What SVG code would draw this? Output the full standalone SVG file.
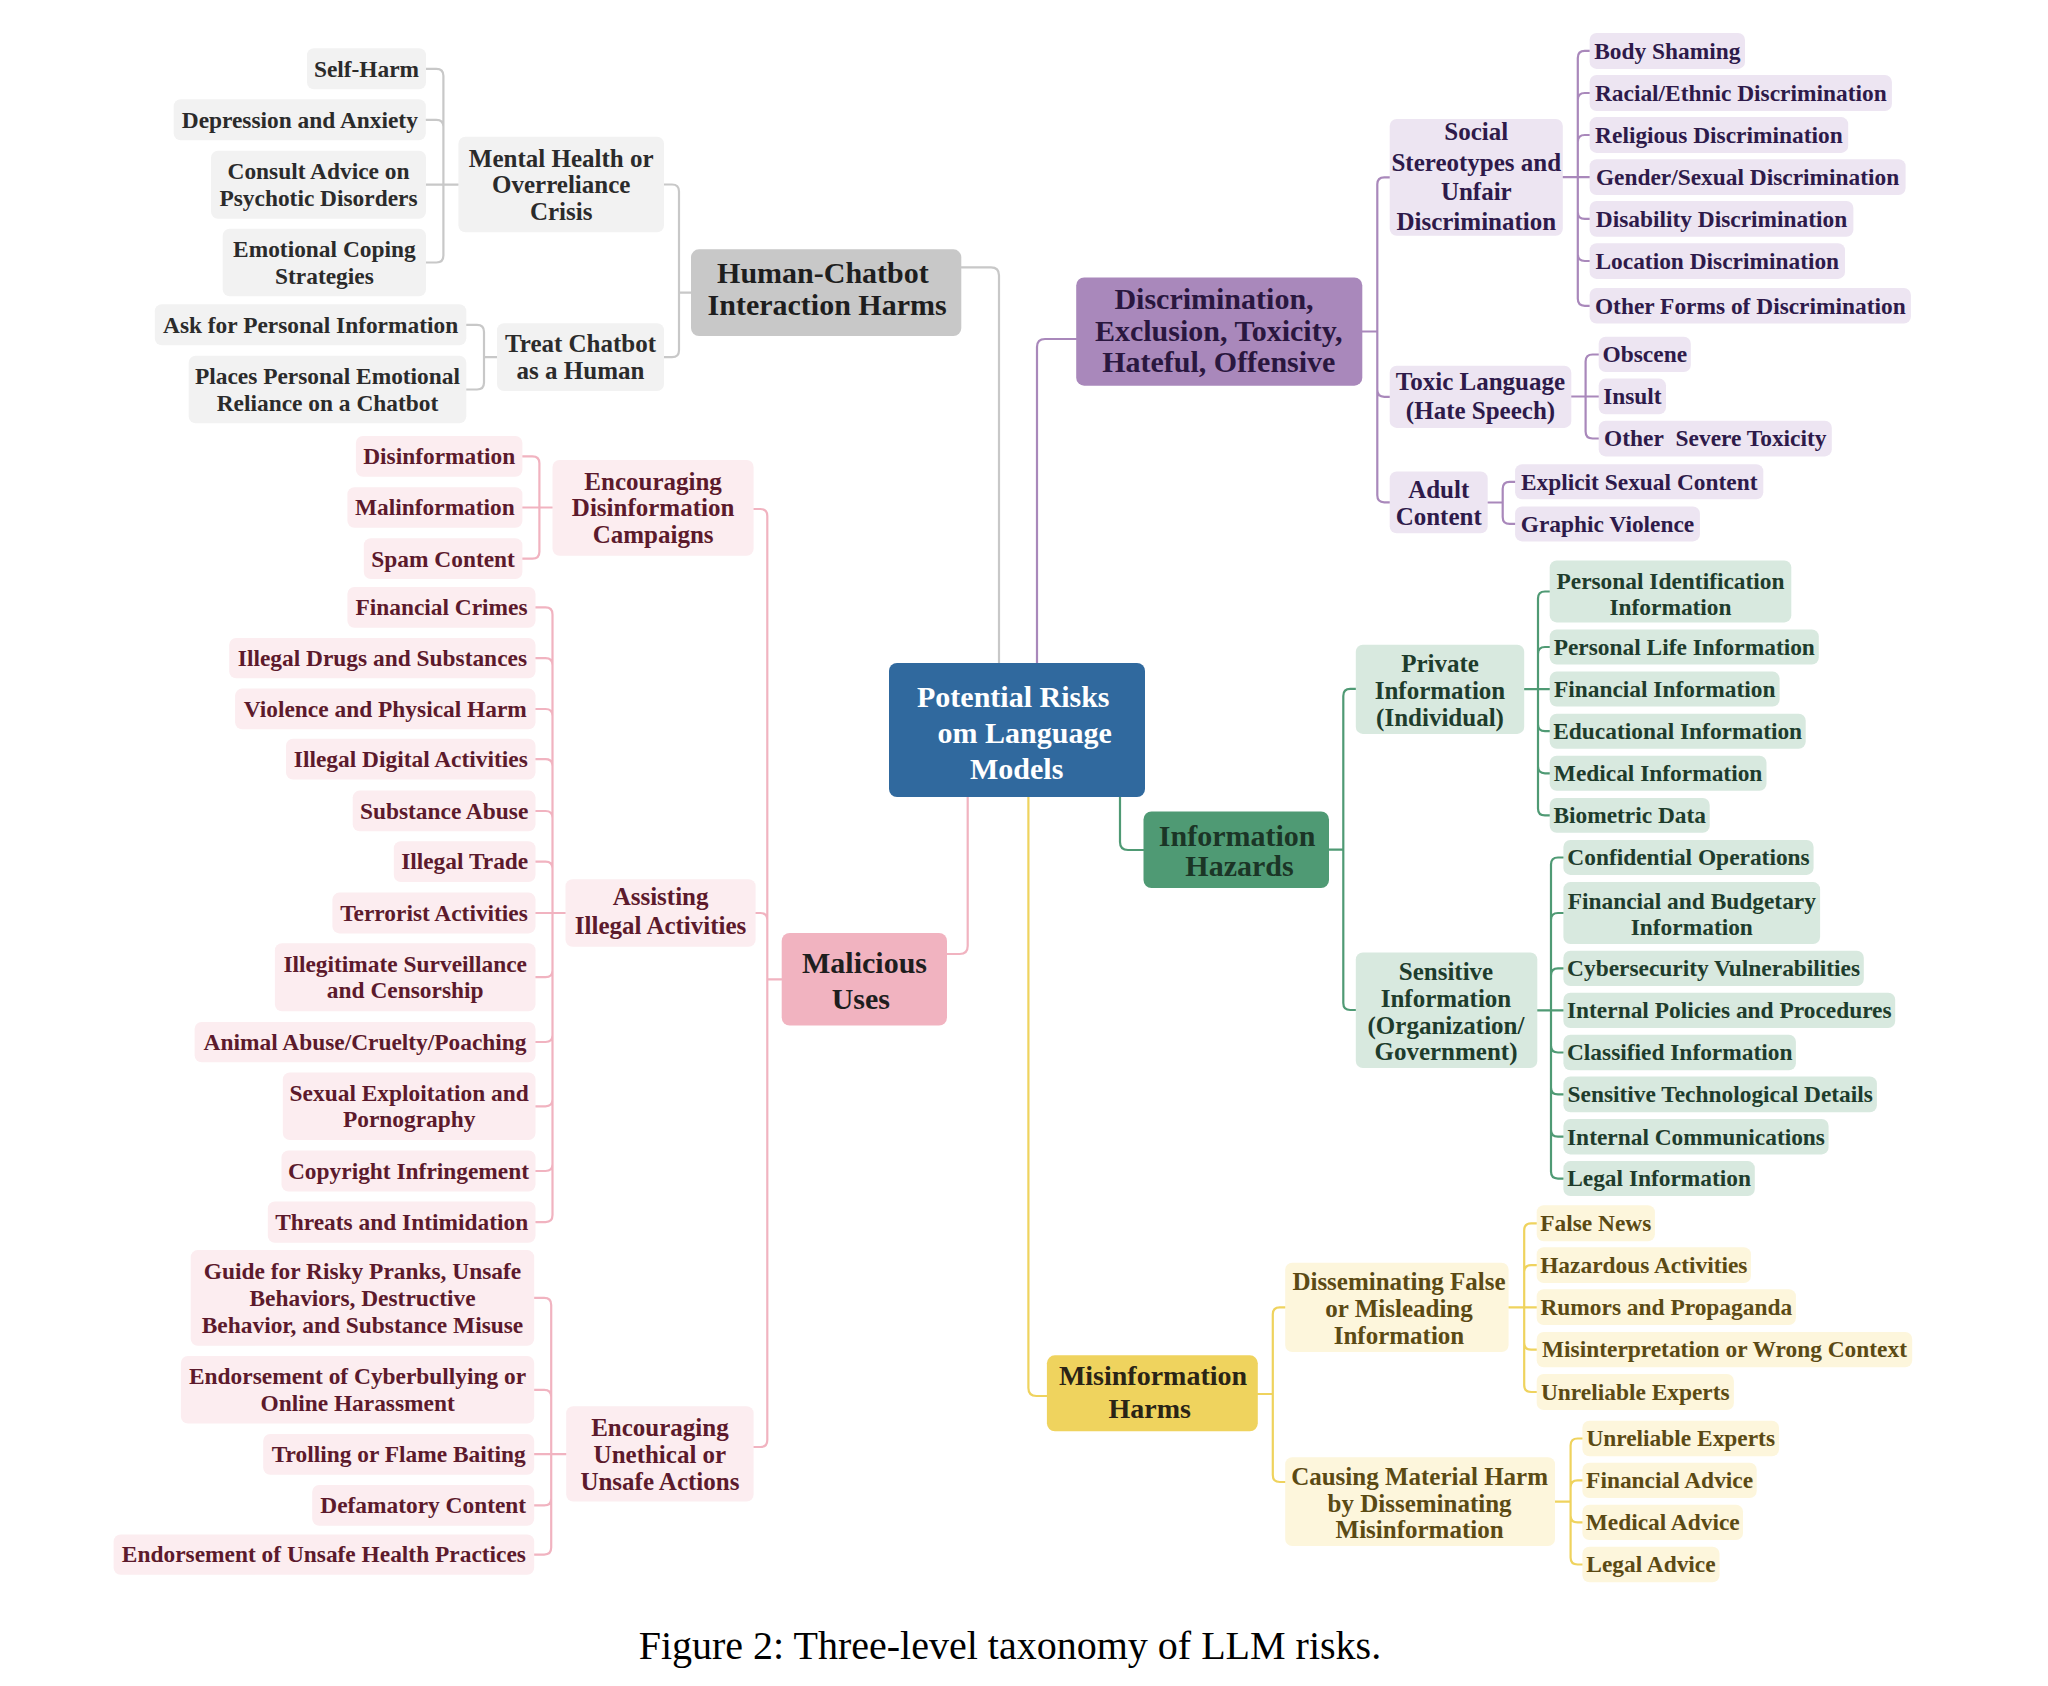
<svg xmlns="http://www.w3.org/2000/svg" width="2048" height="1686" viewBox="0 0 2048 1686">
<style>
text{font-family:"Liberation Serif","Times New Roman",serif;font-weight:bold;text-anchor:middle}
.t1{font-size:30px}.t2{font-size:25px}.t3{font-size:23.4px}
.cap{font-weight:normal;font-size:40px;text-anchor:start;fill:#000}
.c{fill:none;stroke-width:2.2;stroke-linecap:round;stroke-linejoin:round}
.cg{stroke:#c8c8c8}.cp{stroke:#a988bb}.ck{stroke:#f1b3c0}.cn{stroke:#4f9a74}.cy{stroke:#efd35e}
.bg rect{fill:#f2f2f2}.bg text{fill:#2b2b2b}
.bp rect{fill:#ede5f2}.bp text{fill:#2e1a4a}
.bk rect{fill:#fcedf0}.bk text{fill:#5c1a2c}
.bn rect{fill:#d8e9df}.bn text{fill:#1e3c2c}
.by rect{fill:#fdf6dc}.by text{fill:#5b4a14}
</style>
<rect width="2048" height="1686" fill="#fff"/>
<g id="connectors">
<path class="c cg" d="M961.3,267.3 H991 Q999,267.3 999,275.3 V663"/>
<path class="c cg" d="M664,184.5 H672 Q679,184.5 679,191.5 V350.2 Q679,357.2 672,357.2 H664 M691,292.7 H679"/>
<path class="c cg" d="M426,68.8 H436.4 Q443.4,68.8 443.4,75.8 V255.5 Q443.4,262.5 436.4,262.5 H426 M426,119.8 H436.4 Q443.4,119.8 443.4,126.8 M426,184.6 H458.4"/>
<path class="c cg" d="M466.3,324.8 H477 Q484,324.8 484,331.8 V382.5 Q484,389.5 477,389.5 H466.3 M497,357.2 H484"/>
<path class="c cp" d="M1076.2,339 H1045 Q1037,339 1037,347 V663"/>
<path class="c cp" d="M1389.7,177.3 H1384.3 Q1377.3,177.3 1377.3,184.3 V495.3 Q1377.3,502.3 1384.3,502.3 H1389.7 M1389.7,396.8 H1384.3 Q1377.3,396.8 1377.3,389.8 M1362.3,331.5 H1377.3"/>
<path class="c cp" d="M1589.6,50.9 H1584.8 Q1577.8,50.9 1577.8,57.9 V298.8 Q1577.8,305.8 1584.8,305.8 H1589.6 M1589.6,93 H1584.8 Q1577.8,93 1577.8,100 M1589.6,135 H1584.8 Q1577.8,135 1577.8,142 M1562.8,177.2 H1589.6 M1589.6,218.9 H1584.8 Q1577.8,218.9 1577.8,211.9 M1589.6,261 H1584.8 Q1577.8,261 1577.8,254"/>
<path class="c cp" d="M1598.7,354.5 H1592.6 Q1585.6,354.5 1585.6,361.5 V431.5 Q1585.6,438.5 1592.6,438.5 H1598.7 M1571.3,396.5 H1598.7"/>
<path class="c cp" d="M1515.1,481.8 H1509.7 Q1502.7,481.8 1502.7,488.8 V516.9 Q1502.7,523.9 1509.7,523.9 H1515.1 M1487.7,502.5 H1502.7"/>
<path class="c ck" d="M967.7,797 V946 Q967.7,954 959.7,954 H947"/>
<path class="c ck" d="M753.6,509 H760.3 Q767.3,509 767.3,516 V1440 Q767.3,1447 760.3,1447 H753.6 M755.6,913 H760.3 Q767.3,913 767.3,920 M781.7,979.3 H767.3"/>
<path class="c ck" d="M522.4,456.3 H532.4 Q539.4,456.3 539.4,463.3 V551.7 Q539.4,558.7 532.4,558.7 H522.4 M522.4,507.5 H552.5"/>
<path class="c ck" d="M535.5,607.4 H545.5 Q552.5,607.4 552.5,614.4 V1215.1 Q552.5,1222.1 545.5,1222.1 H535.5 M535.5,658.2 H545.5 Q552.5,658.2 552.5,665.2 M535.5,709 H545.5 Q552.5,709 552.5,716 M535.5,759.2 H545.5 Q552.5,759.2 552.5,766.2 M535.5,811 H545.5 Q552.5,811 552.5,818 M535.5,861.6 H545.5 Q552.5,861.6 552.5,868.6 M535.5,913 H565.5 M535.5,977.2 H545.5 Q552.5,977.2 552.5,970.2 M535.5,1042 H545.5 Q552.5,1042 552.5,1035 M535.5,1106.3 H545.5 Q552.5,1106.3 552.5,1099.3 M535.5,1171 H545.5 Q552.5,1171 552.5,1164"/>
<path class="c ck" d="M534.2,1297.9 H544.2 Q551.2,1297.9 551.2,1304.9 V1547.6 Q551.2,1554.6 544.2,1554.6 H534.2 M534.2,1389.8 H544.2 Q551.2,1389.8 551.2,1396.8 M534.2,1454.1 H566.2 M534.2,1505.4 H544.2 Q551.2,1505.4 551.2,1498.4"/>
<path class="c cn" d="M1120,797 V842 Q1120,850 1128,850 H1143.5"/>
<path class="c cn" d="M1355.8,688.9 H1350.3 Q1343.3,688.9 1343.3,695.9 V1003 Q1343.3,1010 1350.3,1010 H1355.8 M1329,849.6 H1343.3"/>
<path class="c cn" d="M1549.7,591.5 H1545 Q1538,591.5 1538,598.5 V808.4 Q1538,815.4 1545,815.4 H1549.7 M1549.7,647 H1545 Q1538,647 1538,654 M1524.2,689.1 H1549.7 M1549.7,731.2 H1545 Q1538,731.2 1538,724.2 M1549.7,773.3 H1545 Q1538,773.3 1538,766.3"/>
<path class="c cn" d="M1563.4,857.5 H1558 Q1551,857.5 1551,864.5 V1171.6 Q1551,1178.6 1558,1178.6 H1563.4 M1563.4,913 H1558 Q1551,913 1551,920 M1563.4,968.4 H1558 Q1551,968.4 1551,975.4 M1537.3,1010.4 H1563.4 M1563.4,1052.5 H1558 Q1551,1052.5 1551,1045.5 M1563.4,1094.4 H1558 Q1551,1094.4 1551,1087.4 M1563.4,1136.7 H1558 Q1551,1136.7 1551,1129.7"/>
<path class="c cy" d="M1028.4,797 V1388 Q1028.4,1396 1036.4,1396 H1046.9"/>
<path class="c cy" d="M1285.2,1307.3 H1279.8 Q1272.8,1307.3 1272.8,1314.3 V1475 Q1272.8,1482 1279.8,1482 H1285.2 M1257.8,1394 H1272.8"/>
<path class="c cy" d="M1536.7,1223.3 H1531.2 Q1524.2,1223.3 1524.2,1230.3 V1385 Q1524.2,1392 1531.2,1392 H1536.7 M1536.7,1265.2 H1531.2 Q1524.2,1265.2 1524.2,1272.2 M1508.6,1307.3 H1536.7 M1536.7,1349.7 H1531.2 Q1524.2,1349.7 1524.2,1342.7"/>
<path class="c cy" d="M1582.4,1438.5 H1577.6 Q1570.6,1438.5 1570.6,1445.5 V1557.5 Q1570.6,1564.5 1577.6,1564.5 H1582.4 M1582.4,1480.4 H1577.6 Q1570.6,1480.4 1570.6,1487.4 M1582.4,1522.4 H1577.6 Q1570.6,1522.4 1570.6,1515.4 M1555,1501.7 H1570.6"/>
</g>

<g id="root"><rect x="889" y="663" width="256" height="134" rx="8" fill="#30699e"/>
<text class="t1" fill="#fff"><tspan x="1013.3" y="707">Potential Risks</tspan><tspan x="1024.7" y="743">om Language</tspan><tspan x="1016.7" y="779">Models</tspan></text></g>

<g id="human-chatbot"><rect x="691" y="249.3" width="270.3" height="86.7" rx="8" fill="#c8c8c8"/>
<text class="t1" fill="#1e1e1e"><tspan x="822.9" y="282.7">Human-Chatbot</tspan><tspan x="827.1" y="314.5">Interaction Harms</tspan></text></g>
<g class="bg" id="mental-health"><rect x="458.4" y="136.7" width="205.6" height="95.6" rx="7"/><text class="t2"><tspan x="561.2" y="166.5">Mental Health or</tspan><tspan x="561.2" y="193.2">Overreliance</tspan><tspan x="561.2" y="219.9">Crisis</tspan></text></g>
<g class="bg" id="self-harm"><rect x="307" y="48.3" width="119" height="41" rx="7"/><text class="t3" x="366.5" y="76.6">Self-Harm</text></g>
<g class="bg" id="depression"><rect x="173.7" y="99.3" width="252.1" height="41" rx="7"/><text class="t3" x="299.8" y="127.6">Depression and Anxiety</text></g>
<g class="bg" id="consult-advice"><rect x="211" y="150.7" width="215" height="68" rx="7"/><text class="t3"><tspan x="318.5" y="178.8">Consult Advice on</tspan><tspan x="318.5" y="205.5">Psychotic Disorders</tspan></text></g>
<g class="bg" id="emotional-coping"><rect x="222.7" y="228.7" width="203.3" height="67.6" rx="7"/><text class="t3"><tspan x="324.4" y="256.9">Emotional Coping</tspan><tspan x="324.4" y="283.6">Strategies</tspan></text></g>
<g class="bg" id="treat-chatbot"><rect x="497" y="323.3" width="167" height="67.7" rx="7"/><text class="t2"><tspan x="580.5" y="352.3">Treat Chatbot</tspan><tspan x="580.5" y="379">as a Human</tspan></text></g>
<g class="bg" id="ask-personal"><rect x="154.8" y="304.3" width="311.5" height="41" rx="7"/><text class="t3" x="310.6" y="332.6">Ask for Personal Information</text></g>
<g class="bg" id="places-reliance"><rect x="188.7" y="355.7" width="277.6" height="67.6" rx="7"/><text class="t3"><tspan x="327.5" y="383.9">Places Personal Emotional</tspan><tspan x="327.5" y="410.6">Reliance on a Chatbot</tspan></text></g>

<g id="discrimination"><rect x="1076.2" y="277.5" width="286.1" height="108.2" rx="8" fill="#a988bb"/>
<text class="t1" fill="#2a173f"><tspan x="1214" y="309.3">Discrimination,</tspan><tspan x="1218.7" y="340.7">Exclusion, Toxicity,</tspan><tspan x="1218.8" y="372">Hateful, Offensive</tspan></text></g>
<g class="bp" id="social-stereotypes"><rect x="1389.7" y="118.9" width="173.1" height="116.8" rx="7"/><text class="t2"><tspan x="1476.3" y="140.4">Social</tspan><tspan x="1476.3" y="170.7">Stereotypes and</tspan><tspan x="1476.3" y="200">Unfair</tspan><tspan x="1476.3" y="229.6">Discrimination</tspan></text></g>
<g class="bp" id="body-shaming"><rect x="1589.6" y="32.9" width="155.4" height="36" rx="7"/><text class="t3" x="1667.3" y="58.7">Body Shaming</text></g>
<g class="bp" id="racial"><rect x="1589.6" y="75" width="302.3" height="36.1" rx="7"/><text class="t3" x="1740.8" y="100.8">Racial/Ethnic Discrimination</text></g>
<g class="bp" id="religious"><rect x="1589.6" y="117.1" width="258.6" height="35.8" rx="7"/><text class="t3" x="1718.9" y="142.8">Religious Discrimination</text></g>
<g class="bp" id="gender"><rect x="1589.6" y="159.3" width="316" height="35.7" rx="7"/><text class="t3" x="1747.6" y="185">Gender/Sexual Discrimination</text></g>
<g class="bp" id="disability"><rect x="1589.6" y="201" width="263.8" height="35.8" rx="7"/><text class="t3" x="1721.5" y="226.7">Disability Discrimination</text></g>
<g class="bp" id="location"><rect x="1589.6" y="243.2" width="255.4" height="35.7" rx="7"/><text class="t3" x="1717.3" y="268.9">Location Discrimination</text></g>
<g class="bp" id="other-forms"><rect x="1589.6" y="287.9" width="321.3" height="35.7" rx="7"/><text class="t3" x="1750.3" y="313.6">Other Forms of Discrimination</text></g>
<g class="bp" id="toxic-language"><rect x="1389.7" y="365.7" width="181.6" height="62.2" rx="7"/><text class="t2"><tspan x="1480.5" y="389.5">Toxic Language</tspan><tspan x="1480.5" y="418.8">(Hate Speech)</tspan></text></g>
<g class="bp" id="obscene"><rect x="1598.7" y="336.8" width="92.1" height="35.3" rx="7"/><text class="t3" x="1644.8" y="362.3">Obscene</text></g>
<g class="bp" id="insult"><rect x="1598.7" y="378.6" width="67.3" height="35.7" rx="7"/><text class="t3" x="1632.4" y="404.3">Insult</text></g>
<g class="bp" id="other-severe"><rect x="1598.7" y="420.7" width="233.1" height="35.7" rx="7"/><text class="t3" x="1715.3" y="446.4">Other&#160; Severe Toxicity</text></g>
<g class="bp" id="adult-content"><rect x="1389.7" y="471.4" width="98" height="61.8" rx="7"/><text class="t2"><tspan x="1438.7" y="498">Adult</tspan><tspan x="1438.7" y="525">Content</tspan></text></g>
<g class="bp" id="explicit"><rect x="1515.1" y="464.3" width="248.2" height="35" rx="7"/><text class="t3" x="1639.2" y="489.6">Explicit Sexual Content</text></g>
<g class="bp" id="graphic"><rect x="1515.1" y="506.4" width="184.8" height="35" rx="7"/><text class="t3" x="1607.5" y="531.7">Graphic Violence</text></g>

<g id="malicious"><rect x="781.7" y="933" width="165.3" height="92.5" rx="8" fill="#f1b3c0"/>
<text class="t1" fill="#1e1e1e"><tspan x="864.5" y="973.3">Malicious</tspan><tspan x="860.8" y="1009.3">Uses</tspan></text></g>
<g class="bk" id="enc-disinfo"><rect x="552.5" y="460" width="201.1" height="95.7" rx="7"/><text class="t2"><tspan x="653.1" y="489.7">Encouraging</tspan><tspan x="653.1" y="516.3">Disinformation</tspan><tspan x="653.1" y="543.1">Campaigns</tspan></text></g>
<g class="bk" id="disinformation"><rect x="355.9" y="435.9" width="166.5" height="40.8" rx="7"/><text class="t3" x="439.2" y="464.1">Disinformation</text></g>
<g class="bk" id="malinformation"><rect x="347.4" y="487.3" width="175" height="40.4" rx="7"/><text class="t3" x="434.9" y="515.3">Malinformation</text></g>
<g class="bk" id="spam"><rect x="363.8" y="538.3" width="158.6" height="40.8" rx="7"/><text class="t3" x="443.1" y="566.5">Spam Content</text></g>
<g class="bk" id="assisting"><rect x="565.5" y="879.2" width="190.1" height="67.6" rx="7"/><text class="t2"><tspan x="660.6" y="905">Assisting</tspan><tspan x="660.6" y="934">Illegal Activities</tspan></text></g>
<g class="bk" id="financial-crimes"><rect x="347.4" y="587" width="188.1" height="40.7" rx="7"/><text class="t3" x="441.5" y="615.2">Financial Crimes</text></g>
<g class="bk" id="illegal-drugs"><rect x="229.2" y="638" width="306.3" height="40.3" rx="7"/><text class="t3" x="382.4" y="666">Illegal Drugs and Substances</text></g>
<g class="bk" id="violence"><rect x="235.1" y="688.6" width="300.4" height="40.7" rx="7"/><text class="t3" x="385.3" y="716.8">Violence and Physical Harm</text></g>
<g class="bk" id="illegal-digital"><rect x="286" y="738.8" width="249.5" height="40.7" rx="7"/><text class="t3" x="410.8" y="767">Illegal Digital Activities</text></g>
<g class="bk" id="substance-abuse"><rect x="352.7" y="790.6" width="182.8" height="40.7" rx="7"/><text class="t3" x="444.1" y="818.8">Substance Abuse</text></g>
<g class="bk" id="illegal-trade"><rect x="393.8" y="841.2" width="141.7" height="40.8" rx="7"/><text class="t3" x="464.7" y="869.4">Illegal Trade</text></g>
<g class="bk" id="terrorist"><rect x="332.4" y="892.6" width="203.1" height="40.8" rx="7"/><text class="t3" x="434" y="920.8">Terrorist Activities</text></g>
<g class="bk" id="surveillance"><rect x="274.9" y="943.2" width="260.6" height="68" rx="7"/><text class="t3"><tspan x="405.2" y="971.6">Illegitimate Surveillance</tspan><tspan x="405.2" y="998.3">and Censorship</tspan></text></g>
<g class="bk" id="animal-abuse"><rect x="194.6" y="1021.9" width="340.9" height="40.3" rx="7"/><text class="t3" x="365.1" y="1049.9">Animal Abuse/Cruelty/Poaching</text></g>
<g class="bk" id="sexual-exploitation"><rect x="282.8" y="1072.5" width="252.7" height="67.6" rx="7"/><text class="t3"><tspan x="409.2" y="1101">Sexual Exploitation and</tspan><tspan x="409.2" y="1126.5">Pornography</tspan></text></g>
<g class="bk" id="copyright"><rect x="281.5" y="1150.4" width="254" height="41.2" rx="7"/><text class="t3" x="408.5" y="1178.8">Copyright Infringement</text></g>
<g class="bk" id="threats"><rect x="267.8" y="1201.5" width="267.7" height="41.2" rx="7"/><text class="t3" x="401.7" y="1229.9">Threats and Intimidation</text></g>
<g class="bk" id="enc-unethical"><rect x="566.2" y="1406.3" width="187.4" height="95.2" rx="7"/><text class="t2"><tspan x="659.9" y="1436">Encouraging</tspan><tspan x="659.9" y="1462.7">Unethical or</tspan><tspan x="659.9" y="1489.6">Unsafe Actions</tspan></text></g>
<g class="bk" id="risky-pranks"><rect x="190.7" y="1250.1" width="343.5" height="95.6" rx="7"/><text class="t3"><tspan x="362.5" y="1279">Guide for Risky Pranks, Unsafe</tspan><tspan x="362.5" y="1305.8">Behaviors, Destructive</tspan><tspan x="362.5" y="1332.8">Behavior, and Substance Misuse</tspan></text></g>
<g class="bk" id="cyberbullying"><rect x="180.9" y="1356" width="353.3" height="67.6" rx="7"/><text class="t3"><tspan x="357.6" y="1384.3">Endorsement of Cyberbullying or</tspan><tspan x="357.6" y="1411">Online Harassment</tspan></text></g>
<g class="bk" id="trolling"><rect x="263.2" y="1433.9" width="271" height="40.8" rx="7"/><text class="t3" x="398.7" y="1462.1">Trolling or Flame Baiting</text></g>
<g class="bk" id="defamatory"><rect x="312.2" y="1485" width="222" height="40.8" rx="7"/><text class="t3" x="423.2" y="1513.2">Defamatory Content</text></g>
<g class="bk" id="unsafe-health"><rect x="113.6" y="1534.4" width="420.6" height="40.4" rx="7"/><text class="t3" x="323.9" y="1562.4">Endorsement of Unsafe Health Practices</text></g>

<g id="information-hazards"><rect x="1143.5" y="811.4" width="185.5" height="76.6" rx="8" fill="#4f9a74"/>
<text class="t1" fill="#1b3526"><tspan x="1237.2" y="845.5">Information</tspan><tspan x="1239.5" y="876.2">Hazards</tspan></text></g>
<g class="bn" id="private-info"><rect x="1355.8" y="644.7" width="168.4" height="89.2" rx="7"/><text class="t2"><tspan x="1440" y="672">Private</tspan><tspan x="1440" y="699">Information</tspan><tspan x="1440" y="726">(Individual)</tspan></text></g>
<g class="bn" id="personal-id"><rect x="1549.7" y="560.5" width="241.6" height="61.9" rx="7"/><text class="t3"><tspan x="1670.5" y="589">Personal Identification</tspan><tspan x="1670.5" y="615">Information</tspan></text></g>
<g class="bn" id="personal-life"><rect x="1549.7" y="629.5" width="269.1" height="35" rx="7"/><text class="t3" x="1684.3" y="654.8">Personal Life Information</text></g>
<g class="bn" id="financial-info"><rect x="1549.7" y="671.6" width="229.9" height="35" rx="7"/><text class="t3" x="1664.7" y="696.9">Financial Information</text></g>
<g class="bn" id="educational"><rect x="1549.7" y="713.7" width="256" height="35" rx="7"/><text class="t3" x="1677.7" y="739">Educational Information</text></g>
<g class="bn" id="medical-info"><rect x="1549.7" y="755.8" width="216.8" height="34.9" rx="7"/><text class="t3" x="1658.1" y="781">Medical Information</text></g>
<g class="bn" id="biometric"><rect x="1549.7" y="797.9" width="160" height="34.9" rx="7"/><text class="t3" x="1629.7" y="823.1">Biometric Data</text></g>
<g class="bn" id="sensitive-info"><rect x="1355.8" y="952.4" width="181.5" height="115.7" rx="7"/><text class="t2"><tspan x="1446" y="980">Sensitive</tspan><tspan x="1446" y="1007">Information</tspan><tspan x="1446" y="1034">(Organization/</tspan><tspan x="1446" y="1060">Government)</tspan></text></g>
<g class="bn" id="confidential"><rect x="1563.4" y="840" width="250.2" height="34.9" rx="7"/><text class="t3" x="1688.5" y="865.2">Confidential Operations</text></g>
<g class="bn" id="budgetary"><rect x="1563.4" y="882.1" width="256.7" height="61.9" rx="7"/><text class="t3"><tspan x="1691.8" y="909">Financial and Budgetary</tspan><tspan x="1691.8" y="935">Information</tspan></text></g>
<g class="bn" id="cybersecurity"><rect x="1563.4" y="950.7" width="300.4" height="35.3" rx="7"/><text class="t3" x="1713.6" y="976.1">Cybersecurity Vulnerabilities</text></g>
<g class="bn" id="internal-policies"><rect x="1563.4" y="992.8" width="331.8" height="35.3" rx="7"/><text class="t3" x="1729.3" y="1018.2">Internal Policies and Procedures</text></g>
<g class="bn" id="classified"><rect x="1563.4" y="1034.8" width="232.5" height="35.4" rx="7"/><text class="t3" x="1679.7" y="1060.3">Classified Information</text></g>
<g class="bn" id="sensitive-tech"><rect x="1563.4" y="1076.5" width="313.5" height="35.8" rx="7"/><text class="t3" x="1720.2" y="1102.2">Sensitive Technological Details</text></g>
<g class="bn" id="internal-comm"><rect x="1563.4" y="1119" width="265.2" height="35.4" rx="7"/><text class="t3" x="1696" y="1144.5">Internal Communications</text></g>
<g class="bn" id="legal-info"><rect x="1563.4" y="1161.1" width="191.4" height="34.9" rx="7"/><text class="t3" x="1659.1" y="1186.3">Legal Information</text></g>

<g id="misinformation-harms"><rect x="1046.9" y="1355.3" width="210.9" height="76" rx="8" fill="#efd35e"/>
<text fill="#2a2416" style="font-size:28px"><tspan x="1153" y="1385">Misinformation</tspan><tspan x="1149.7" y="1418.3">Harms</tspan></text></g>
<g class="by" id="disseminating-false"><rect x="1285.2" y="1262.7" width="223.4" height="89.3" rx="7"/><text class="t2"><tspan x="1399" y="1290">Disseminating False</tspan><tspan x="1399" y="1317">or Misleading</tspan><tspan x="1399" y="1344">Information</tspan></text></g>
<g class="by" id="false-news"><rect x="1536.7" y="1205.3" width="118.2" height="36" rx="7"/><text class="t3" x="1595.8" y="1231.1">False News</text></g>
<g class="by" id="hazardous"><rect x="1536.7" y="1247.3" width="214.2" height="35.7" rx="7"/><text class="t3" x="1643.8" y="1273">Hazardous Activities</text></g>
<g class="by" id="rumors"><rect x="1536.7" y="1289.3" width="259.2" height="35.7" rx="7"/><text class="t3" x="1666.3" y="1315">Rumors and Propaganda</text></g>
<g class="by" id="misinterpretation"><rect x="1536.7" y="1332" width="375.5" height="35.3" rx="7"/><text class="t3" x="1724.5" y="1357.4">Misinterpretation or Wrong Context</text></g>
<g class="by" id="unreliable-1"><rect x="1536.7" y="1374" width="197.2" height="36" rx="7"/><text class="t3" x="1635.3" y="1399.8">Unreliable Experts</text></g>
<g class="by" id="causing-harm"><rect x="1285.2" y="1457.3" width="269.8" height="88.7" rx="7"/><text class="t2"><tspan x="1419.6" y="1485">Causing Material Harm</tspan><tspan x="1419.6" y="1511.5">by Disseminating</tspan><tspan x="1419.6" y="1538">Misinformation</tspan></text></g>
<g class="by" id="unreliable-2"><rect x="1582.4" y="1420.7" width="196.6" height="35.6" rx="7"/><text class="t3" x="1680.7" y="1446.3">Unreliable Experts</text></g>
<g class="by" id="financial-advice"><rect x="1582.4" y="1462.7" width="174.3" height="35.3" rx="7"/><text class="t3" x="1669.6" y="1488.1">Financial Advice</text></g>
<g class="by" id="medical-advice"><rect x="1582.4" y="1504.7" width="160.6" height="35.3" rx="7"/><text class="t3" x="1662.7" y="1530.1">Medical Advice</text></g>
<g class="by" id="legal-advice"><rect x="1582.4" y="1546.7" width="137.1" height="35.6" rx="7"/><text class="t3" x="1651" y="1572.3">Legal Advice</text></g>

<text class="cap" x="638.7" y="1659">Figure 2: Three-level taxonomy of LLM risks.</text>
</svg>
